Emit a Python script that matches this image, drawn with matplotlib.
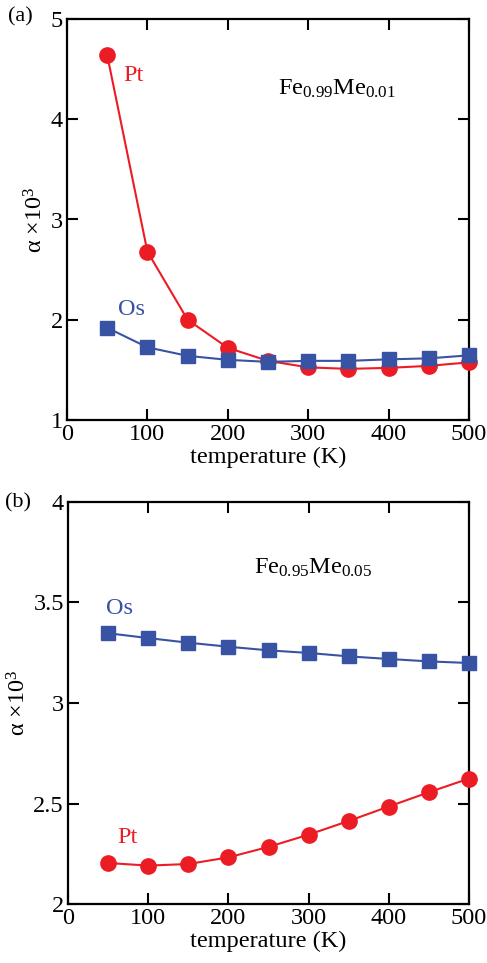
import numpy as np
import matplotlib.pyplot as plt
from matplotlib.ticker import FuncFormatter

# Data
temperature = [50, 100, 150, 200, 250, 300, 350, 400, 450, 500]

# (a) Fe0.99Me0.01
pt_a = [4.64, 2.68, 2.00, 1.72, 1.59, 1.525, 1.51, 1.52, 1.54, 1.575]
os_a = [1.92, 1.725, 1.64, 1.60, 1.58, 1.59, 1.59, 1.605, 1.615, 1.645]

# (b) Fe0.95Me0.05
pt_b = [2.204, 2.191, 2.199, 2.232, 2.284, 2.345, 2.413, 2.485, 2.556, 2.624]
os_b = [3.347, 3.323, 3.300, 3.280, 3.262, 3.249, 3.232, 3.219, 3.207, 3.199]

xticks = [0, 100, 200, 300, 400, 500]
yticks_a = [1, 2, 3, 4, 5]
yticks_b = [2, 2.5, 3, 3.5, 4]

red = '#ec1c24'
blue = '#3953a4'

plt.rcParams['font.family'] = ['Liberation Serif', 'DejaVu Serif']
plt.rcParams['mathtext.fontset'] = 'custom'
plt.rcParams['mathtext.rm'] = 'Liberation Serif'
plt.rcParams['mathtext.it'] = 'Liberation Serif:italic'
fs = 17.5

fig = plt.figure(figsize=(4.87, 9.63), dpi=100)
W, H = 487, 963
ax_a = fig.add_axes([67 / W, 1 - 420 / H, 402 / W, 401 / H])
ax_b = fig.add_axes([68 / W, 1 - 904 / H, 401 / W, 402 / H])


def fmt(v, pos):
    return ('%g' % v)


def style(ax, yticks):
    ax.set_xlim(0, 500)
    ax.set_ylim(yticks[0], yticks[-1])
    ax.set_xticks(xticks)
    ax.set_yticks(yticks)
    ax.yaxis.set_major_formatter(FuncFormatter(fmt))
    ax.tick_params(direction='in', length=8, width=1.5, top=True, right=True,
                   labelsize=fs, pad=3)
    for s in ax.spines.values():
        s.set_linewidth(1.6)
    ax.set_xlabel('temperature (K)', fontsize=fs, labelpad=1)
    ax.set_ylabel('α ×10$^\\mathregular{3}$', fontsize=fs, labelpad=2)


for ax, pt, os_, yt in [(ax_a, pt_a, os_a, yticks_a), (ax_b, pt_b, os_b, yticks_b)]:
    ax.plot(temperature, pt, '-o', color=red, lw=1.5, ms=11, clip_on=False, zorder=3)
    ax.plot(temperature, os_, '-s', color=blue, lw=1.5, ms=9.5, clip_on=False, zorder=4)
    style(ax, yt)

ax_a.text(70, 4.44, 'Pt', color=red, fontsize=fs, va='center')
ax_a.text(63, 2.1, 'Os', color=blue, fontsize=fs, va='center')
ax_a.text(262, 4.3, 'Fe$_\\mathregular{0.99}$Me$_\\mathregular{0.01}$', fontsize=fs, va='center')

ax_b.text(48, 3.47, 'Os', color=blue, fontsize=fs, va='center')
ax_b.text(61, 2.33, 'Pt', color=red, fontsize=fs, va='center')
ax_b.text(232, 3.67, 'Fe$_\\mathregular{0.95}$Me$_\\mathregular{0.05}$', fontsize=fs, va='center')

fig.text(8 / W, 1 - 17 / H, '(a)', fontsize=16, va='center')
fig.text(5 / W, 1 - 503 / H, '(b)', fontsize=16, va='center')

fig.savefig('out.png', dpi=100)
